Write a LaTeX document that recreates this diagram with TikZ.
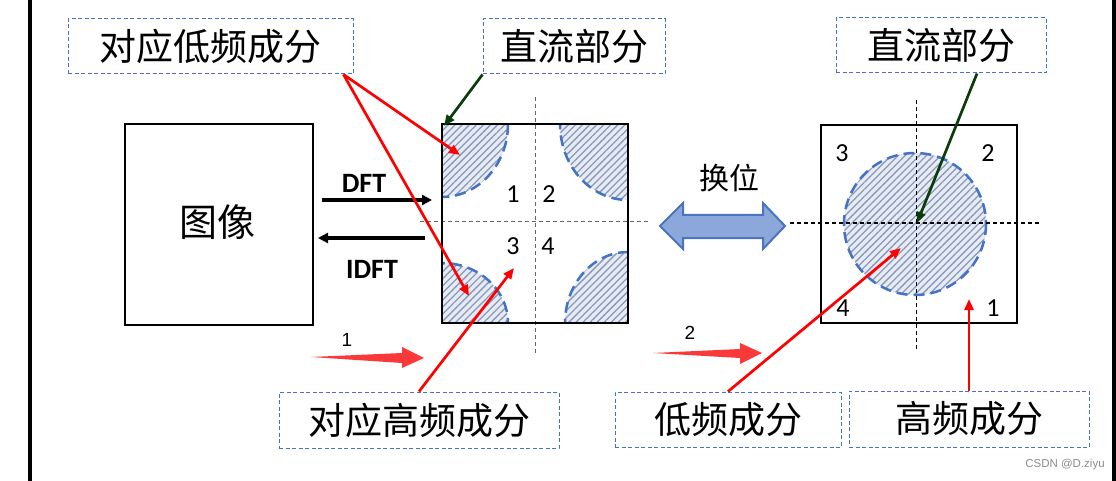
\documentclass[tikz,border=0pt]{standalone}
\usepackage{fontspec}
\setmainfont{Liberation Sans}
\newfontfamily\cjk{Noto Sans CJK SC}
\newfontfamily\calib{Carlito}
\usetikzlibrary{arrows.meta,patterns.meta,calc}
\definecolor{boxblue}{HTML}{4472C4}
\definecolor{hatchbg}{HTML}{E6EBF4}
\definecolor{hatchline}{HTML}{8A99BA}
\definecolor{arrred}{HTML}{FF0000}
\definecolor{fatred}{HTML}{FA3A3A}
\definecolor{dgreen}{HTML}{0B3D0B}
\definecolor{dblfill}{HTML}{8CA8DA}
\definecolor{dblline}{HTML}{4A74C0}
\tikzset{
  labelbox/.style={draw=boxblue, line width=1pt, dash pattern=on 4pt off 2.5pt, inner sep=0pt, font=\cjk\fontsize{37}{42}\selectfont},
  squarebox/.style={draw=black, line width=2.8pt, inner sep=0pt},
  redarrow/.style={draw=arrred, line width=2.7pt, -{Triangle[length=11pt,width=9pt]}},
  greenarrow/.style={draw=dgreen, line width=2.7pt, -{Triangle[length=11pt,width=9pt]}},
  blackarrow/.style={draw=black, line width=3.5pt, -{Triangle[length=10pt,width=10pt]}},
  axisline/.style={line width=1pt, dash pattern=on 4pt off 3pt},
  hatchfill/.style={fill=hatchbg},
  hatchlines/.style={pattern={Lines[angle=45,distance=5pt,line width=1.3pt]}, pattern color=hatchline},
  circdash/.style={draw=boxblue, line width=2.5pt, dash pattern=on 11pt off 6pt},
  numtxt/.style={font=\calib\fontsize{26}{30}\selectfont, inner sep=0pt},
  fatarrow/.style={fill=fatred, draw=none},
}
\begin{document}
\begin{tikzpicture}[x=1pt,y=-1pt]
\useasboundingbox (0,0) rectangle (1116,481);
\fill[white] (0,0) rectangle (1116,481);
% page edges
\fill[black] (28,0) rectangle (32,481);
\fill[black] (1112,0) rectangle (1116,481);

% hatched quarter regions in middle square
\begin{scope}
  \clip (442,124) rectangle (628,323);
  \foreach \cx/\cy/\rx/\ry in {442/124/66/73, 628/124/68/76, 442/323/66/60, 628/323/63/71}{
    \fill[hatchfill] (\cx,\cy) ellipse [x radius=\rx, y radius=\ry];
    \fill[hatchlines] (\cx,\cy) ellipse [x radius=\rx, y radius=\ry];
    \draw[circdash] (\cx,\cy) ellipse [x radius=\rx, y radius=\ry];
  }
\end{scope}
% right circle
\fill[hatchfill] (915,224) circle [radius=71];
\fill[hatchlines] (915,224) circle [radius=71];
\draw[circdash] (915,224) circle [radius=71];

% axes
\draw[axisline, draw=black!60] (535,97) -- (535,355);
\draw[axisline, draw=black!60] (420,222) -- (650,222);
\draw[axisline, draw=black] (916,100) -- (916,350);
\draw[axisline, draw=black] (790,223) -- (1040,223);

% squares
\node[squarebox, minimum width=188pt, minimum height=201pt] (img) at (219,224.5) {};
\node[font=\cjk\fontsize{38}{42}\selectfont] (imgtxt) at (217,222) {图像};
\node[squarebox, minimum width=186pt, minimum height=199pt] (spec) at (535,223.5) {};
\node[squarebox, line width=2.5pt, minimum width=196pt, minimum height=198pt] (shift) at (919,224) {};

% numbers
\node[numtxt] (n1) at (513,194) {1};
\node[numtxt] (n2) at (549,194) {2};
\node[numtxt] (n3) at (513,246) {3};
\node[numtxt] (n4) at (548,246) {4};
\node[numtxt] (m3) at (842,153) {3};
\node[numtxt] (m2) at (988,153) {2};
\node[numtxt] (m4) at (843,308) {4};
\node[numtxt] (m1) at (993,308) {1};

% DFT / IDFT
\coordinate (dftA) at (322,200);
\coordinate (dftB) at (432,200);
\coordinate (idftA) at (425,238);
\coordinate (idftB) at (318,238);
\draw[blackarrow] (dftA) -- (dftB);
\draw[blackarrow] (idftA) -- (idftB);
\node[font=\calib\bfseries\fontsize{28}{30}\selectfont, inner sep=0pt] (dft) at (364,183) {DFT};
\node[font=\calib\bfseries\fontsize{28}{30}\selectfont, inner sep=0pt] (idft) at (372,269) {IDFT};

% swap arrow
\draw[fill=dblfill, draw=dblline, line width=2pt, line join=miter]
  (660,226) -- (683,203) -- (683,215) -- (763,215) -- (763,203) -- (785,226)
  -- (763,249) -- (763,238) -- (683,238) -- (683,249) -- cycle;
\node[font=\cjk\fontsize{30}{34}\selectfont] (swap) at (729,178) {换位};

% fat red arrows
\fill[fatarrow] (311,357) -- (402,353) -- (402,347) -- (424,358) -- (402,368) -- (402,363) -- cycle;
\node[font=\fontsize{19}{22}\selectfont, inner sep=0pt] (l1) at (347,340) {1};
\fill[fatarrow] (653,353) -- (740,349) -- (740,343) -- (762,353) -- (740,364) -- (740,358) -- cycle;
\node[font=\fontsize{19}{22}\selectfont, inner sep=0pt] (l2) at (690,333) {2};

% label boxes
\node[labelbox, minimum width=285pt, minimum height=55pt] (lowc) at (210.5,46.5) {对应低频成分};
\node[labelbox, minimum width=182pt, minimum height=55pt] (dc1) at (574,46.5) {直流部分};
\node[labelbox, minimum width=210pt, minimum height=55pt] (dc2) at (941,45.5) {直流部分};
\node[labelbox, minimum width=280pt, minimum height=56pt] (highc) at (419,420) {对应高频成分};
\node[labelbox, minimum width=226pt, minimum height=55pt] (low2) at (728,419.5) {低频成分};
\node[labelbox, minimum width=240pt, minimum height=56pt] (high2) at (969,419) {高频成分};

% connector targets
\coordinate (tTL) at (460,155);
\coordinate (tBL) at (469,296);
\coordinate (tHC) at (514,268);
\coordinate (tLow) at (901,248);
\coordinate (tHigh) at (969,299);
\coordinate (tDC1) at (444,126);
\coordinate (tDC2) at (917,223);

\draw[redarrow] ([xshift=-10pt]lowc.south east) -- (tTL);
\draw[redarrow] ([xshift=-10pt]lowc.south east) -- (tBL);
\draw[redarrow] (highc.north) -- (tHC);
\draw[redarrow] (low2.north) -- (tLow);
\draw[redarrow] (high2.north) -- (tHigh);
\draw[greenarrow] (dc1.south west) -- (tDC1);
\draw[greenarrow] ([xshift=36pt]dc2.south) -- (tDC2);

% watermark
\node[font=\fontsize{11.5}{13}\selectfont, text=black!45, inner sep=0pt] (wm) at (1065,465) {CSDN @D.ziyu};
\end{tikzpicture}
\end{document}
